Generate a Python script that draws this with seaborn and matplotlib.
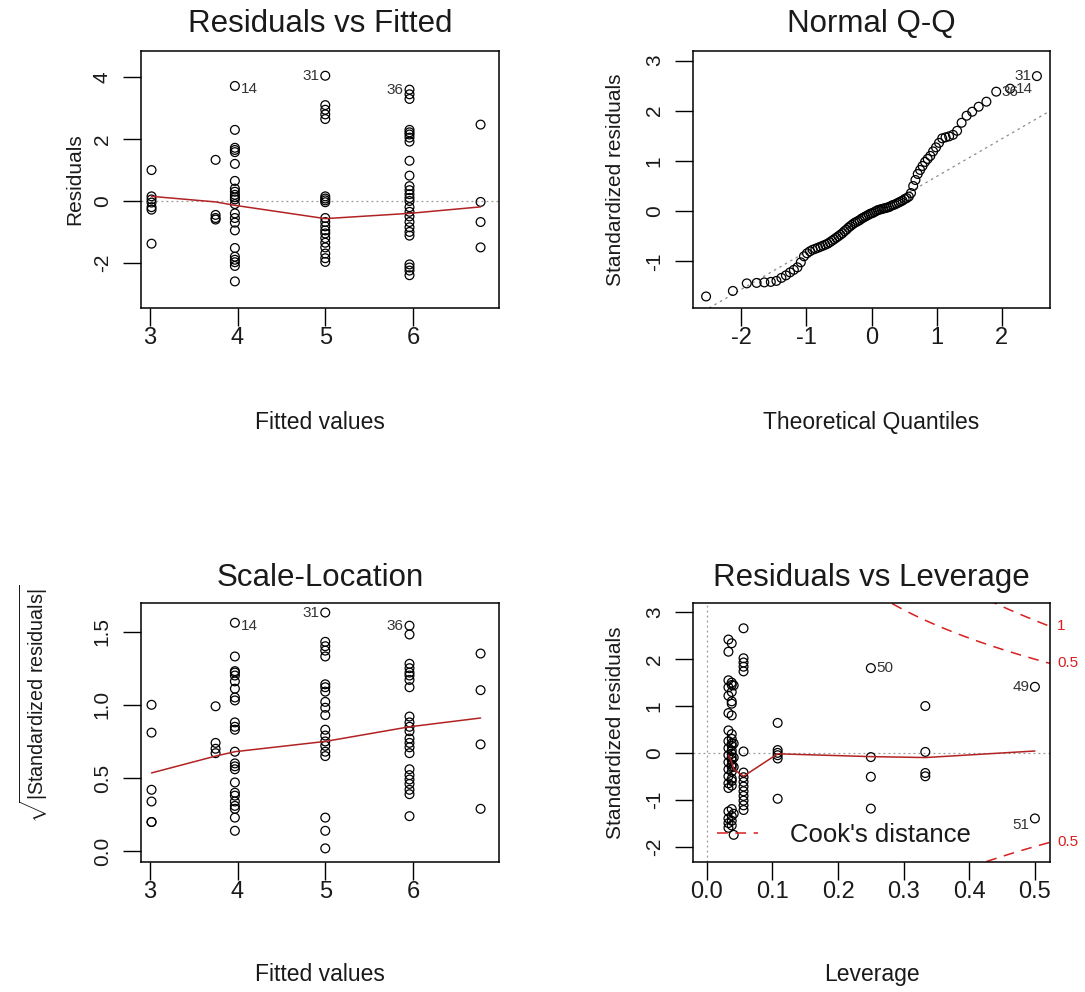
import matplotlib
matplotlib.use("Agg")
import matplotlib.pyplot as plt
import seaborn as sns
import numpy as np
import pandas as pd
from statistics import NormalDist
from matplotlib.lines import Line2D

# ---------------- Residuals vs Fitted ----------------
fit_levels = [3.02, 3.75, 3.97, 5.00, 5.96, 6.77]
resid_302 = [1.0, 0.15, 0.05, -0.05, -0.2, -0.28, -1.38]
resid_375 = [1.33, -0.45, -0.55, -0.6]
resid_397 = [3.72, 2.3, 1.72, 1.65, 1.58, 1.2, 0.65, 0.4, 0.3, 0.2, 0.12, 0.05,
             -0.1, -0.4, -0.55, -0.7, -0.95, -1.52, -1.8, -1.9, -1.98, -2.1, -2.6]
resid_500 = [4.05, 3.1, 2.95, 2.8, 2.65, 0.15, 0.08, 0.02, -0.04, -0.55, -0.68,
             -0.82, -0.95, -1.05, -1.2, -1.35, -1.5, -1.7, -1.85, -1.97]
resid_596 = [3.6, 3.45, 3.3, 2.3, 2.22, 2.15, 2.05, 1.92, 1.3, 0.82, 0.48, 0.35,
             0.22, 0.1, 0.0, -0.2, -0.35, -0.5, -0.68, -0.85, -1.0, -1.12,
             -2.05, -2.15, -2.25, -2.4]
resid_677 = [2.47, -0.03, -0.68, -1.5]
resid_smooth = [0.15, -0.03, -0.14, -0.57, -0.40, -0.19]

# ---------------- Scale-Location ----------------
sqrt_302 = [1.0, 0.81, 0.42, 0.34, 0.2, 0.2]
sqrt_375 = [0.99, 0.74, 0.70, 0.67]
sqrt_397 = [1.56, 1.33, 1.23, 1.22, 1.20, 1.16, 1.11, 1.05, 1.03, 0.88, 0.85,
            0.83, 0.68, 0.60, 0.58, 0.56, 0.47, 0.40, 0.38, 0.34, 0.31, 0.29,
            0.23, 0.14]
sqrt_500 = [1.63, 1.43, 1.40, 1.37, 1.33, 1.14, 1.12, 1.09, 1.02, 0.98, 0.93,
            0.83, 0.79, 0.75, 0.72, 0.68, 0.65, 0.23, 0.14, 0.02]
sqrt_596 = [1.54, 1.48, 1.28, 1.25, 1.22, 1.2, 1.17, 1.12, 0.92, 0.88, 0.85,
            0.82, 0.77, 0.74, 0.71, 0.67, 0.56, 0.52, 0.49, 0.46, 0.42, 0.39,
            0.24]
sqrt_677 = [1.35, 1.1, 0.73, 0.29]
sqrt_smooth = [0.535, 0.65, 0.68, 0.75, 0.85, 0.91]

# ---------------- Normal Q-Q (sorted standardized residuals) ----------------
std_sorted = [
    -1.70, -1.59, -1.44, -1.43, -1.42, -1.41, -1.39, -1.33, -1.28, -1.22,
    -1.17, -1.12, -1.02, -0.90, -0.84, -0.80, -0.77, -0.75, -0.73, -0.71,
    -0.69, -0.67, -0.65, -0.62, -0.59, -0.56, -0.53, -0.50, -0.47, -0.44,
    -0.40, -0.37, -0.33, -0.30, -0.27, -0.24, -0.22, -0.20, -0.18, -0.15,
    -0.13, -0.11, -0.09, -0.07, -0.05,
    -0.04, -0.02, 0.00, 0.02, 0.03, 0.04, 0.05, 0.06, 0.07, 0.08,
    0.10, 0.12, 0.13, 0.15, 0.17, 0.19, 0.21, 0.24, 0.26, 0.29,
    0.36, 0.50, 0.62, 0.74, 0.82, 0.90, 0.98, 1.04, 1.10, 1.19,
    1.27, 1.36, 1.45, 1.47, 1.49, 1.52, 1.60, 1.76, 1.90, 1.98,
    2.08, 2.18, 2.38, 2.44, 2.69,
]
qq_labels = {90: "31", 89: "14", 88: "36"}   # rank -> observation id
qq_line_intercept = -0.06
qq_line_slope = 0.75

# ---------------- Residuals vs Leverage ----------------
lev_levels = [0.033, 0.038, 0.041, 0.056, 0.108, 0.25, 0.333, 0.5]
stdres_033 = [2.42, 2.16, 1.55, 1.40, 1.22, 0.85, 0.48, 0.25, 0.1, -0.05, -0.2,
              -0.35, -0.5, -0.65, -0.75, -1.25, -1.4, -1.5, -1.6]
stdres_038 = [2.34, 1.5, 1.45, 1.3, 1.1, 1.05, 0.8, 0.4, 0.3, 0.2, 0.15, 0.05,
              -0.02, -0.1, -0.15, -0.25, -0.3, -0.4, -0.55, -0.6, -0.7, -1.2,
              -1.35, -1.45, -1.55]
stdres_041 = [1.44, 0.2, -0.1, -0.3, -1.3, -1.75]
stdres_056 = [2.66, 2.02, 1.93, 1.84, 1.74, 0.03, -0.42, -0.52, -0.62, -0.72,
              -0.82, -0.92, -1.02, -1.12, -1.22]
stdres_108 = [0.64, 0.06, 0.0, -0.05, -0.12, -0.98]
stdres_250 = [1.81, -0.09, -0.51, -1.19]
stdres_333 = [1.0, 0.02, -0.43, -0.5]
stdres_500 = [1.41, -1.40]
lev_smooth = [-0.05, -0.2, -0.35, -0.5, -0.02, -0.08, -0.1, 0.04]
cook_levels = [0.5, 1.0]
n_coef = 8

# ---------------- assemble tables ----------------
def long_table(levels, groups, xname, yname):
    rows = []
    for lv, vals in zip(levels, groups):
        rows += [(lv, v) for v in vals]
    return pd.DataFrame(rows, columns=[xname, yname])

rvf = long_table(fit_levels, [resid_302, resid_375, resid_397, resid_500,
                              resid_596, resid_677], "fitted", "resid")
sl = long_table(fit_levels, [sqrt_302, sqrt_375, sqrt_397, sqrt_500,
                             sqrt_596, sqrt_677], "fitted", "sqrtres")
rvl = long_table(lev_levels, [stdres_033, stdres_038, stdres_041, stdres_056,
                              stdres_108, stdres_250, stdres_333, stdres_500],
                 "leverage", "stdres")
n_obs = len(std_sorted)
nd = NormalDist()
qq = pd.DataFrame({
    "theo": [nd.inv_cdf((i - 0.5) / n_obs) for i in range(1, n_obs + 1)],
    "sample": std_sorted,
})

# ---------------- style ----------------
sns.set_theme(style="ticks")
plt.rcParams["font.family"] = ["Liberation Sans", "DejaVu Sans"]
plt.rcParams["mathtext.fontset"] = "custom"
plt.rcParams["mathtext.rm"] = "Liberation Sans"
plt.rcParams["mathtext.it"] = "Liberation Sans:italic"

RED = "#d81e1e"
SMOOTH = "#b22222"
TEXT = "#1a1a1a"
TITLE_FS = 22.5
XLABEL_FS = 16.5
YLABEL_FS = 15
XTICK_FS = 17
YTICK_FS = 15
LEGEND_FS = 18.5
ID_FS = 11
COOK_DASH = (0, (7, 5))

fig = plt.figure(figsize=(10.85, 9.92), dpi=100)
W, H = 1085, 992

def add_axes(x0, y0, x1, y1):
    return fig.add_axes([x0 / W, 1 - y1 / H, (x1 - x0) / W, (y1 - y0) / H])

ax_rf = add_axes(141, 51, 499, 308)
ax_qq = add_axes(693, 51, 1050, 308)
ax_sl = add_axes(141, 603, 499, 862)
ax_rl = add_axes(693, 603, 1050, 862)

def points(ax, df, x, y):
    sns.scatterplot(data=df, x=x, y=y, ax=ax, marker="o", s=40,
                    facecolors="none", edgecolor="black", linewidth=0.9,
                    legend=False, zorder=3)

def style_axes(ax, title, xlabel, ylabel, xticks, yticks, xfmt, yfmt,
               ylab_x, xlab_y, title_y, ylab_y=0.5, ylab_fs=YLABEL_FS):
    ax.set_xticks(xticks)
    ax.set_yticks(yticks)
    ax.set_xticklabels([xfmt.format(v) for v in xticks], fontsize=XTICK_FS)
    ax.set_yticklabels([yfmt.format(v) for v in yticks], fontsize=YTICK_FS,
                       rotation=90, va="center")
    ax.tick_params(axis="both", direction="out", length=13, width=1.0,
                   color="black", labelcolor=TEXT)
    ax.tick_params(axis="x", pad=1.0)
    ax.tick_params(axis="y", pad=8)
    for sp in ax.spines.values():
        sp.set_visible(True)
        sp.set_color("black")
        sp.set_linewidth(1.1)
    ax.set_title(title, fontsize=TITLE_FS, color=TEXT, y=title_y,
                 va="center", pad=0)
    ax.set_xlabel(xlabel, fontsize=XLABEL_FS, color=TEXT, va="center")
    ax.set_ylabel(ylabel, fontsize=ylab_fs, color=TEXT, va="center")
    ax.xaxis.set_label_coords(0.5, xlab_y)
    ax.yaxis.set_label_coords(ylab_x, ylab_y)

def id_label(ax, x, y, text, side, dy=0.0):
    off = 4 if side == "right" else -4
    ax.annotate(text, (x, y), xytext=(off, dy), textcoords="offset points",
                ha="left" if side == "right" else "right", va="center",
                fontsize=ID_FS, color="#333333", annotation_clip=False)

# ---- Residuals vs Fitted ----
points(ax_rf, rvf, "fitted", "resid")
ax_rf.axhline(0, color="#9a9a9a", lw=0.9, ls=(0, (1.5, 2.5)), zorder=1)
sns.lineplot(x=fit_levels, y=resid_smooth, ax=ax_rf, color=SMOOTH, lw=1.1,
             estimator=None, sort=False, zorder=4)
ax_rf.set_xlim(2.90, 6.98)
ax_rf.set_ylim(-3.46, 4.85)
style_axes(ax_rf, "Residuals vs Fitted", "Fitted values", "Residuals",
           [3, 4, 5, 6], [-2, 0, 2, 4], "{:d}", "{:d}", -0.184, -0.447, 1.105)
id_label(ax_rf, 3.97, 3.72, "14", "right", -2)
id_label(ax_rf, 5.00, 4.05, "31", "left")
id_label(ax_rf, 5.96, 3.6, "36", "left")

# ---- Normal Q-Q ----
points(ax_qq, qq, "theo", "sample")
ax_qq.axline((0, qq_line_intercept), slope=qq_line_slope, color="#8a8a8a",
             lw=0.9, ls=(0, (2, 3)), zorder=2)
ax_qq.set_xlim(-2.74, 2.74)
ax_qq.set_ylim(-1.93, 3.19)
style_axes(ax_qq, "Normal Q-Q", "Theoretical Quantiles",
           "Standardized residuals", [-2, -1, 0, 1, 2], [-1, 0, 1, 2, 3],
           "{:d}", "{:d}", -0.216, -0.447, 1.105)
for rank, lab in qq_labels.items():
    side = "left" if rank == n_obs else "right"
    id_label(ax_qq, qq["theo"][rank - 1], qq["sample"][rank - 1], lab, side)

# ---- Scale-Location ----
points(ax_sl, sl, "fitted", "sqrtres")
sns.lineplot(x=fit_levels, y=sqrt_smooth, ax=ax_sl, color=SMOOTH, lw=1.1,
             estimator=None, sort=False, zorder=4)
ax_sl.set_xlim(2.90, 6.98)
ax_sl.set_ylim(-0.073, 1.695)
style_axes(ax_sl, "Scale-Location", "Fitted values",
           r"$\sqrt{|\mathrm{Standardized\ residuals}|}$",
           [3, 4, 5, 6], [0.0, 0.5, 1.0, 1.5], "{:d}", "{:.1f}", -0.299,
           -0.436, 1.098, ylab_y=0.61, ylab_fs=14.2)
id_label(ax_sl, 3.97, 1.56, "14", "right", -2)
id_label(ax_sl, 5.00, 1.63, "31", "left")
id_label(ax_sl, 5.96, 1.54, "36", "left")

# ---- Residuals vs Leverage ----
points(ax_rl, rvl, "leverage", "stdres")
ax_rl.axhline(0, color="#9a9a9a", lw=0.9, ls=(0, (1.5, 2.5)), zorder=1)
ax_rl.axvline(0, color="#9a9a9a", lw=0.9, ls=(0, (1.5, 2.5)), zorder=1)
sns.lineplot(x=lev_levels, y=lev_smooth, ax=ax_rl, color=SMOOTH, lw=1.1,
             estimator=None, sort=False, zorder=4)
x_hi = 0.523
hh = np.linspace(0.01, x_hi, 101)
for crit in cook_levels:
    cl = np.sqrt(crit * n_coef * (1 - hh) / hh)
    ax_rl.plot(hh, cl, color=RED, lw=1.1, ls=COOK_DASH, zorder=2)
    ax_rl.plot(hh, -cl, color=RED, lw=1.1, ls=COOK_DASH, zorder=2)
ax_rl.set_xlim(-0.021, x_hi)
ax_rl.set_ylim(-2.33, 3.2)
style_axes(ax_rl, "Residuals vs Leverage", "Leverage",
           "Standardized residuals", [0.0, 0.1, 0.2, 0.3, 0.4, 0.5],
           [-2, -1, 0, 1, 2, 3], "{:.1f}", "{:d}", -0.216, -0.436, 1.098)
# contour labels at the right margin
edge = np.sqrt(np.array(cook_levels) * n_coef * (1 - x_hi) / x_hi)
for crit, yv in zip(cook_levels, edge):
    for s in (1, -1):
        if ax_rl.get_ylim()[0] < s * yv < ax_rl.get_ylim()[1]:
            ax_rl.annotate(f"{crit:g}", (x_hi, s * yv), xytext=(5, 0),
                           textcoords="offset points", ha="left", va="center",
                           fontsize=ID_FS, color=RED, annotation_clip=False)
id_label(ax_rl, 0.25, 1.81, "50", "right")
id_label(ax_rl, 0.5, 1.41, "49", "left")
id_label(ax_rl, 0.5, -1.40, "51", "left", -5)
ax_rl.legend(handles=[Line2D([0], [0], color=RED, lw=1.1, ls=COOK_DASH)],
             labels=["Cook's distance"], loc="lower left",
             bbox_to_anchor=(0.035, 0.013), borderaxespad=0, frameon=False,
             fontsize=LEGEND_FS, handlelength=1.6, handletextpad=1.25,
             borderpad=0.45, labelcolor=TEXT)

fig.savefig("out.png", dpi=100, facecolor="white")
